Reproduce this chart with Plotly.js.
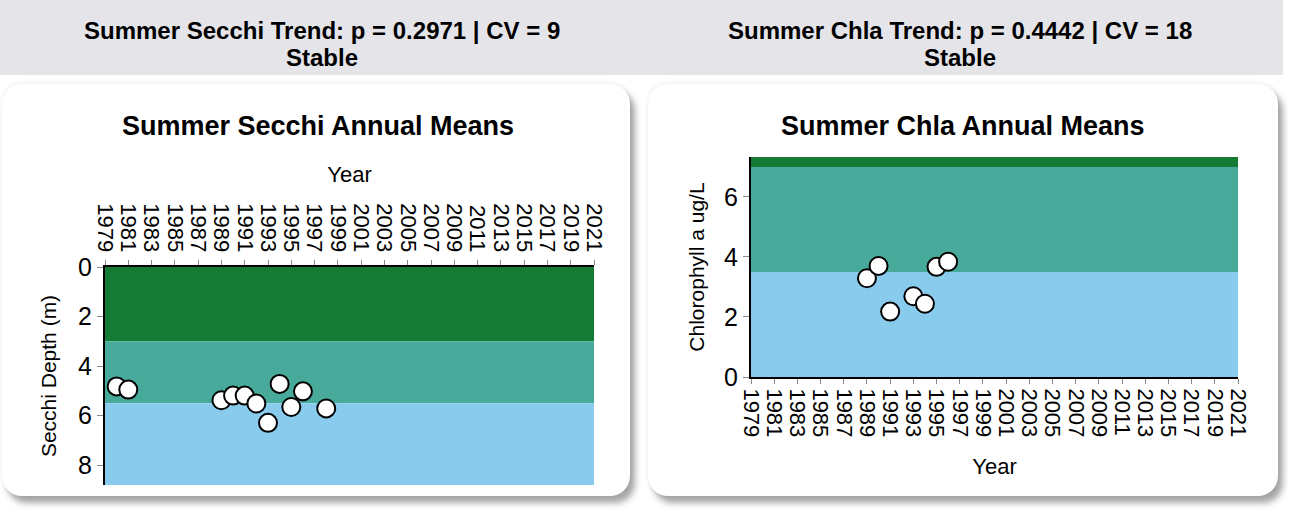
<!DOCTYPE html>
<html>
<head>
<meta charset="utf-8">
<script src="https://cdn.plot.ly/plotly-3.0.1.min.js"></script>
<style>
  html, body { margin:0; padding:0; background:#ffffff; width:1289px; height:514px; overflow:hidden; font-family:"Liberation Sans", Arial, sans-serif; }
  .hdr { position:absolute; left:0; top:0; width:1283px; height:75px; background:#e4e4e9; }
  .panel { position:absolute; top:84px; height:412px; background:#ffffff; border-radius:20px;
           box-shadow: 5px 7px 6px rgba(0,0,0,0.35), 0 -1px 4px rgba(0,0,0,0.08); }
  #chart { position:absolute; left:0; top:0; width:1289px; height:514px; }
</style>
</head>
<body>
<div class="hdr"></div>
<div class="panel" style="left:2px; width:628px;"></div>
<div class="panel" style="left:648px; width:630px;"></div>
<div id="chart"></div>
<script>
// ---- data ----
var secchiYears  = [1980, 1981, 1989, 1990, 1991, 1992, 1993, 1994, 1995, 1996, 1998];
var secchiValues = [4.82, 4.95, 5.38, 5.19, 5.19, 5.51, 6.29, 4.72, 5.65, 5.02, 5.71];
var chlaYears    = [1989, 1990, 1991, 1993, 1994, 1995, 1996];
var chlaValues   = [3.29, 3.70, 2.18, 2.69, 2.44, 3.67, 3.84];
var yearTicks    = [1979,1981,1983,1985,1987,1989,1991,1993,1995,1997,1999,2001,2003,2005,2007,2009,2011,2013,2015,2017,2019,2021];
var yearRange    = [1979, 2021];
// trophic bands: [low, high]
var secchiBands  = [[0, 3], [3, 5.5], [5.5, 8.8]];
var chlaBands    = [[7, 7.33], [3.5, 7], [0, 3.5]];
var bandColors   = ["#157a34", "#47aa9a", "#88cbec"];
var headerLeft   = ["Summer Secchi Trend: p = 0.2971 | CV = 9", "Stable"];
var headerRight  = ["Summer Chla Trend: p = 0.4442 | CV = 18", "Stable"];
var titleLeft    = "Summer Secchi Annual Means";
var titleRight   = "Summer Chla Annual Means";

var W = 1289, H = 514;
function dx(px){ return px / W; }
function dy(py){ return 1 - py / H; }

var FONT = "Liberation Sans, Arial, sans-serif";

var shapes = [];
secchiBands.forEach(function(b, i){
  shapes.push({type:"rect", xref:"x", yref:"y", x0:yearRange[0], x1:yearRange[1], y0:b[0], y1:b[1],
               fillcolor:bandColors[i], line:{width:0}, layer:"below"});
});
chlaBands.forEach(function(b, i){
  shapes.push({type:"rect", xref:"x2", yref:"y2", x0:yearRange[0], x1:yearRange[1], y0:b[0], y1:b[1],
               fillcolor:bandColors[i], line:{width:0}, layer:"below"});
});

var marker = {size:18, color:"#ffffff", line:{color:"#000000", width:2}};

var traces = [
  {x:secchiYears, y:secchiValues, type:"scatter", mode:"markers", marker:marker, xaxis:"x", yaxis:"y", hoverinfo:"x+y"},
  {x:chlaYears, y:chlaValues, type:"scatter", mode:"markers", marker:marker, xaxis:"x2", yaxis:"y2", hoverinfo:"x+y"}
];

var xCommon = {
  range:yearRange, tickmode:"array", tickvals:yearTicks, ticktext:yearTicks.map(String),
  tickangle:90, tickfont:{family:FONT, size:22, color:"#000"},
  ticks:"outside", ticklen:5, tickcolor:"#888", showgrid:false, zeroline:false,
  showline:true, linecolor:"#000", linewidth:2, fixedrange:true
};
var yCommon = {
  tickfont:{family:FONT, size:25, color:"#000"}, ticks:"outside", ticklen:6, tickcolor:"#888",
  showgrid:false, zeroline:false, showline:true, linecolor:"#000", linewidth:2, fixedrange:true
};

function hdrAnn(text, x, y){
  return {text:text, xref:"paper", yref:"paper", x:dx(x), y:dy(y), xanchor:"center", yanchor:"middle",
          showarrow:false, font:{family:FONT, size:24, color:"#000", weight:"bold"}};
}

var layout = {
  width:W, height:H, margin:{l:0, r:0, t:0, b:0},
  paper_bgcolor:"rgba(0,0,0,0)", plot_bgcolor:"rgba(0,0,0,0)",
  showlegend:false, font:{family:FONT, color:"#000"},
  xaxis: Object.assign({}, xCommon, {domain:[dx(105), dx(594)], anchor:"y", side:"top",
          title:{text:"Year", font:{family:FONT, size:22}, standoff:15}}),
  yaxis: Object.assign({}, yCommon, {domain:[dy(485), dy(267)], anchor:"x", range:[8.8, 0],
          tickvals:[0,2,4,6,8],
          title:{text:"Secchi Depth (m)", font:{family:FONT, size:21}, standoff:16}}),
  xaxis2: Object.assign({}, xCommon, {domain:[dx(751), dx(1238)], anchor:"y2", side:"bottom",
          title:{text:"Year", font:{family:FONT, size:22}, standoff:22}}),
  yaxis2: Object.assign({}, yCommon, {domain:[dy(377), dy(157)], anchor:"x2", range:[0, 7.33],
          tickvals:[0,2,4,6],
          title:{text:"Chlorophyll a ug/L", font:{family:FONT, size:21}, standoff:14}}),
  shapes: shapes,
  annotations: [
    hdrAnn(headerLeft[0], 322, 30), hdrAnn(headerLeft[1], 322, 57),
    hdrAnn(headerRight[0], 960, 30), hdrAnn(headerRight[1], 960, 57),
    {text:titleLeft, xref:"paper", yref:"paper", x:dx(318), y:dy(126), xanchor:"center", yanchor:"middle",
     showarrow:false, font:{family:FONT, size:27, color:"#000", weight:"bold"}},
    {text:titleRight, xref:"paper", yref:"paper", x:dx(963), y:dy(126), xanchor:"center", yanchor:"middle",
     showarrow:false, font:{family:FONT, size:27, color:"#000", weight:"bold"}}
  ]
};

Plotly.newPlot("chart", traces, layout, {displayModeBar:false, staticPlot:true});
</script>
</body>
</html>
